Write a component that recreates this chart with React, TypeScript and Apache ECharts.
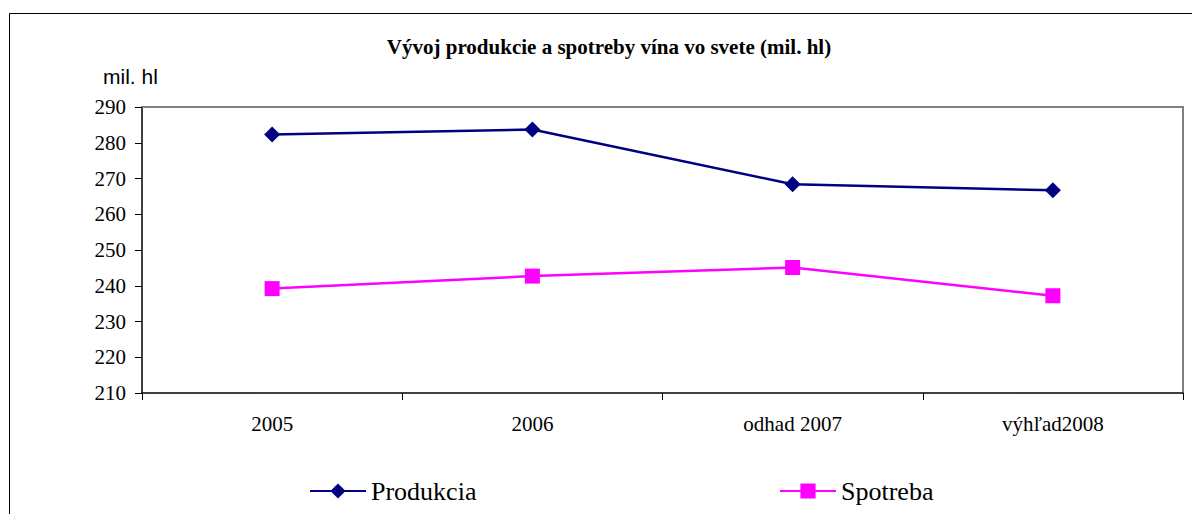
import React, { useEffect, useRef } from "react";
import * as echarts from "echarts";

const categories = ["2005", "2006", "odhad 2007", "výhľad2008"];
const produkcia = [282.3, 283.7, 268.4, 266.7];
const spotreba = [239.2, 242.7, 245.1, 237.2];
const yMin = 210;
const yMax = 290;
const yInterval = 10;

const SERIF = "'Liberation Serif', 'Times New Roman', serif";
const SANS = "'Liberation Sans', Arial, sans-serif";

export default function App() {
  const ref = useRef<HTMLDivElement>(null);
  useEffect(() => {
    if (!ref.current) return;
    const chart = echarts.init(ref.current, null, { renderer: "svg" });
    chart.setOption({
      animation: false,
      backgroundColor: "#ffffff",
      title: {
        text: "Vývoj produkcie a spotreby vína vo svete (mil. hl)",
        left: 604,
        textAlign: "center",
        top: 31,
        textStyle: {
          fontFamily: SERIF,
          fontWeight: "bold",
          fontSize: 21,
          color: "#000",
        },
      },
      graphic: [
        {
          type: "rect",
          shape: { x: 9.5, y: 13.5, width: 1250, height: 600 },
          style: { fill: "none", stroke: "#000", lineWidth: 1 },
          silent: true,
          z: -10,
        },
        {
          type: "text",
          x: 103,
          y: 76,
          style: {
            text: "mil. hl",
            fontFamily: SANS,
            fontSize: 21,
            fill: "#000",
            verticalAlign: "middle",
          },
        },
      ],
      legend: [
        {
          data: ["Produkcia"],
          left: 304,
          top: 473,
          itemWidth: 56,
          itemHeight: 19,
          itemGap: 0,
          textStyle: { fontFamily: SERIF, fontSize: 26, color: "#000" },
        },
        {
          data: ["Spotreba"],
          left: 774,
          top: 473,
          itemWidth: 56,
          itemHeight: 19,
          itemGap: 0,
          textStyle: { fontFamily: SERIF, fontSize: 26, color: "#000" },
        },
      ],
      grid: { left: 142, right: 9, top: 107, bottom: 121, containLabel: false },
      xAxis: [
        {
          type: "category",
          data: categories,
          boundaryGap: true,
          axisLine: { show: true, lineStyle: { color: "#000", width: 1.5 } },
          axisTick: { show: true, length: 7, lineStyle: { color: "#000" } },
          axisLabel: {
            fontFamily: SERIF,
            fontSize: 21,
            color: "#000",
            margin: 20,
            interval: 0,
          },
          splitLine: { show: false },
        },
        {
          type: "category",
          data: categories,
          position: "top",
          axisLine: { show: true, lineStyle: { color: "#808080", width: 2 } },
          axisTick: { show: false },
          axisLabel: { show: false },
          splitLine: { show: false },
        },
      ],
      yAxis: [
        {
          type: "value",
          min: yMin,
          max: yMax,
          interval: yInterval,
          axisLine: { show: true, lineStyle: { color: "#000", width: 1.5 } },
          axisTick: { show: true, length: 7, lineStyle: { color: "#000" } },
          axisLabel: { fontFamily: SERIF, fontSize: 21, color: "#000", margin: 16 },
          splitLine: { show: false },
        },
        {
          type: "value",
          min: yMin,
          max: yMax,
          interval: yInterval,
          position: "right",
          axisLine: { show: true, lineStyle: { color: "#808080", width: 2 } },
          axisTick: { show: false },
          axisLabel: { show: false },
          splitLine: { show: false },
        },
      ],
      series: [
        {
          name: "Produkcia",
          type: "line",
          data: produkcia,
          symbol: "diamond",
          symbolSize: 16,
          itemStyle: { color: "#000080" },
          lineStyle: { color: "#000080", width: 2.5 },
          z: 3,
        },
        {
          name: "Spotreba",
          type: "line",
          data: spotreba,
          symbol: "rect",
          symbolSize: 15,
          itemStyle: { color: "#FF00FF" },
          lineStyle: { color: "#FF00FF", width: 2.5 },
          z: 3,
        },
      ],
    });
    return () => chart.dispose();
  }, []);
  return (
    <div
      ref={ref}
      style={{ position: "absolute", left: 0, top: 0, width: 1192, height: 514 }}
    />
  );
}
